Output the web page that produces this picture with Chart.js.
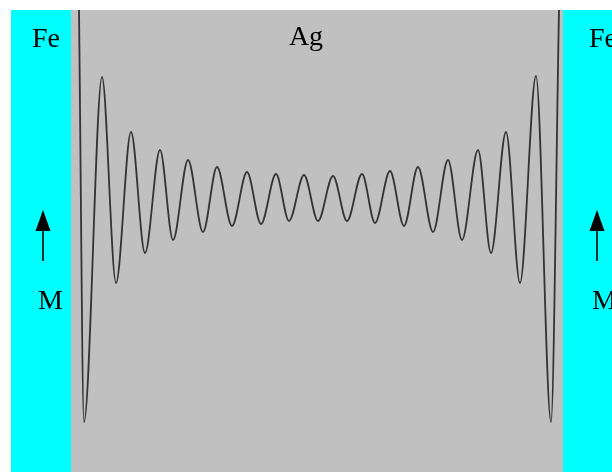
<!DOCTYPE html>
<html>
<head>
<meta charset="utf-8">
<script src="https://cdn.jsdelivr.net/npm/chart.js@4/dist/chart.umd.min.js"></script>
<style>
  body { margin: 0; background: #fff; }
  canvas { display: block; }
</style>
</head>
<body>
<canvas id="spinChart" width="612" height="472"></canvas>
<script>
// depth through the Ag spacer (arbitrary units) and the oscillating spin polarization
let depth = [0, 0.5, 2.3, 3.7, 5.2, 6.6, 8.1, 9.4, 10.9, 12.4, 13.8, 15.3, 16.8, 18.2, 19.7, 21.0, 22.5, 23.9, 25.4, 26.8,
    28.3, 29.6, 31.1, 32.5, 33.9, 35.4, 36.9, 38.3, 39.9, 41.2, 42.7, 44.1, 45.7, 47.2, 48.0];
let polarization = [1.88, -2.24, 1.21, -0.85, 0.66, -0.55, 0.48, -0.42, 0.38, -0.34, 0.31, -0.28, 0.26, -0.26, 0.24, -0.23, 0.23, -0.23, 0.22, -0.23,
    0.24, -0.25, 0.27, -0.28, 0.31, -0.34, 0.38, -0.42, 0.48, -0.55, 0.66, -0.85, 1.22, -2.24, 1.88];

// layers of the Fe / Ag / Fe sandwich
let layerNames = ["Fe", "Ag", "Fe"];
let layerEdges = [-6.8, -0.8, 48.4, 53.3];
let layerTop = 1.88;
let layerColors = ["#00ffff", "#c0c0c0", "#00ffff"];

let magnetLabel = "M";

document.addEventListener("DOMContentLoaded", function () {
    createChart();
});

// fills the layers behind the curve
var layerPlugin = {
    id: "layers",
    beforeDatasetsDraw: function (chart) {
        var ctx = chart.ctx;
        var x = chart.scales.x;
        var y = chart.scales.y;
        var top = y.getPixelForValue(layerTop);
        var bottom = chart.chartArea.bottom;
        ctx.save();
        for (var i = 0; i < layerNames.length; i++) {
            var left = x.getPixelForValue(layerEdges[i]);
            var right = x.getPixelForValue(layerEdges[i + 1]);
            ctx.fillStyle = layerColors[i];
            ctx.fillRect(left, top, right - left, bottom - top);
        }
        ctx.restore();
    }
};

// layer names, magnetization arrows
var labelPlugin = {
    id: "labels",
    afterDraw: function (chart) {
        var ctx = chart.ctx;
        var x = chart.scales.x;
        ctx.save();
        ctx.fillStyle = "#000";
        ctx.strokeStyle = "#000";
        ctx.font = "28px 'Liberation Serif', serif";
        ctx.textBaseline = "alphabetic";

        var leftFe = x.getPixelForValue(layerEdges[0]);
        var agMid = (x.getPixelForValue(layerEdges[1]) + x.getPixelForValue(layerEdges[2])) / 2;
        var rightFe = x.getPixelForValue(layerEdges[2]);

        ctx.textAlign = "left";
        ctx.fillText(layerNames[0], leftFe + 21, 47);
        ctx.fillText(layerNames[2], rightFe + 26, 47);
        ctx.textAlign = "center";
        ctx.fillText(layerNames[1], agMid - 11, 45);

        ctx.textAlign = "left";
        ctx.fillText(magnetLabel, leftFe + 27, 309);
        ctx.fillText(magnetLabel, rightFe + 29, 309);

        [leftFe + 32, rightFe + 34].forEach(function (ax) {
            ctx.lineWidth = 1.6;
            ctx.beginPath();
            ctx.moveTo(ax, 261);
            ctx.lineTo(ax, 228);
            ctx.stroke();
            ctx.beginPath();
            ctx.moveTo(ax, 210);
            ctx.lineTo(ax - 7.5, 231);
            ctx.lineTo(ax + 7.5, 231);
            ctx.closePath();
            ctx.fill();
        });
        ctx.restore();
    }
};

function createChart() {
    var points = depth.map(function (d, i) {
        return { x: d, y: polarization[i] };
    });

    new Chart(document.getElementById("spinChart").getContext("2d"), {
        type: "line",
        data: {
            datasets: [{
                data: points,
                borderColor: "#333",
                borderWidth: 1.8,
                pointRadius: 0,
                fill: false,
                cubicInterpolationMode: "monotone"
            }]
        },
        options: {
            responsive: false,
            animation: false,
            layout: { padding: 0 },
            plugins: {
                legend: { display: false },
                tooltip: { enabled: false }
            },
            scales: {
                x: { type: "linear", min: -7.9, max: 53.3, display: false },
                y: { min: -2.74, max: 1.98, display: false }
            }
        },
        plugins: [layerPlugin, labelPlugin]
    });
}
</script>
</body>
</html>
